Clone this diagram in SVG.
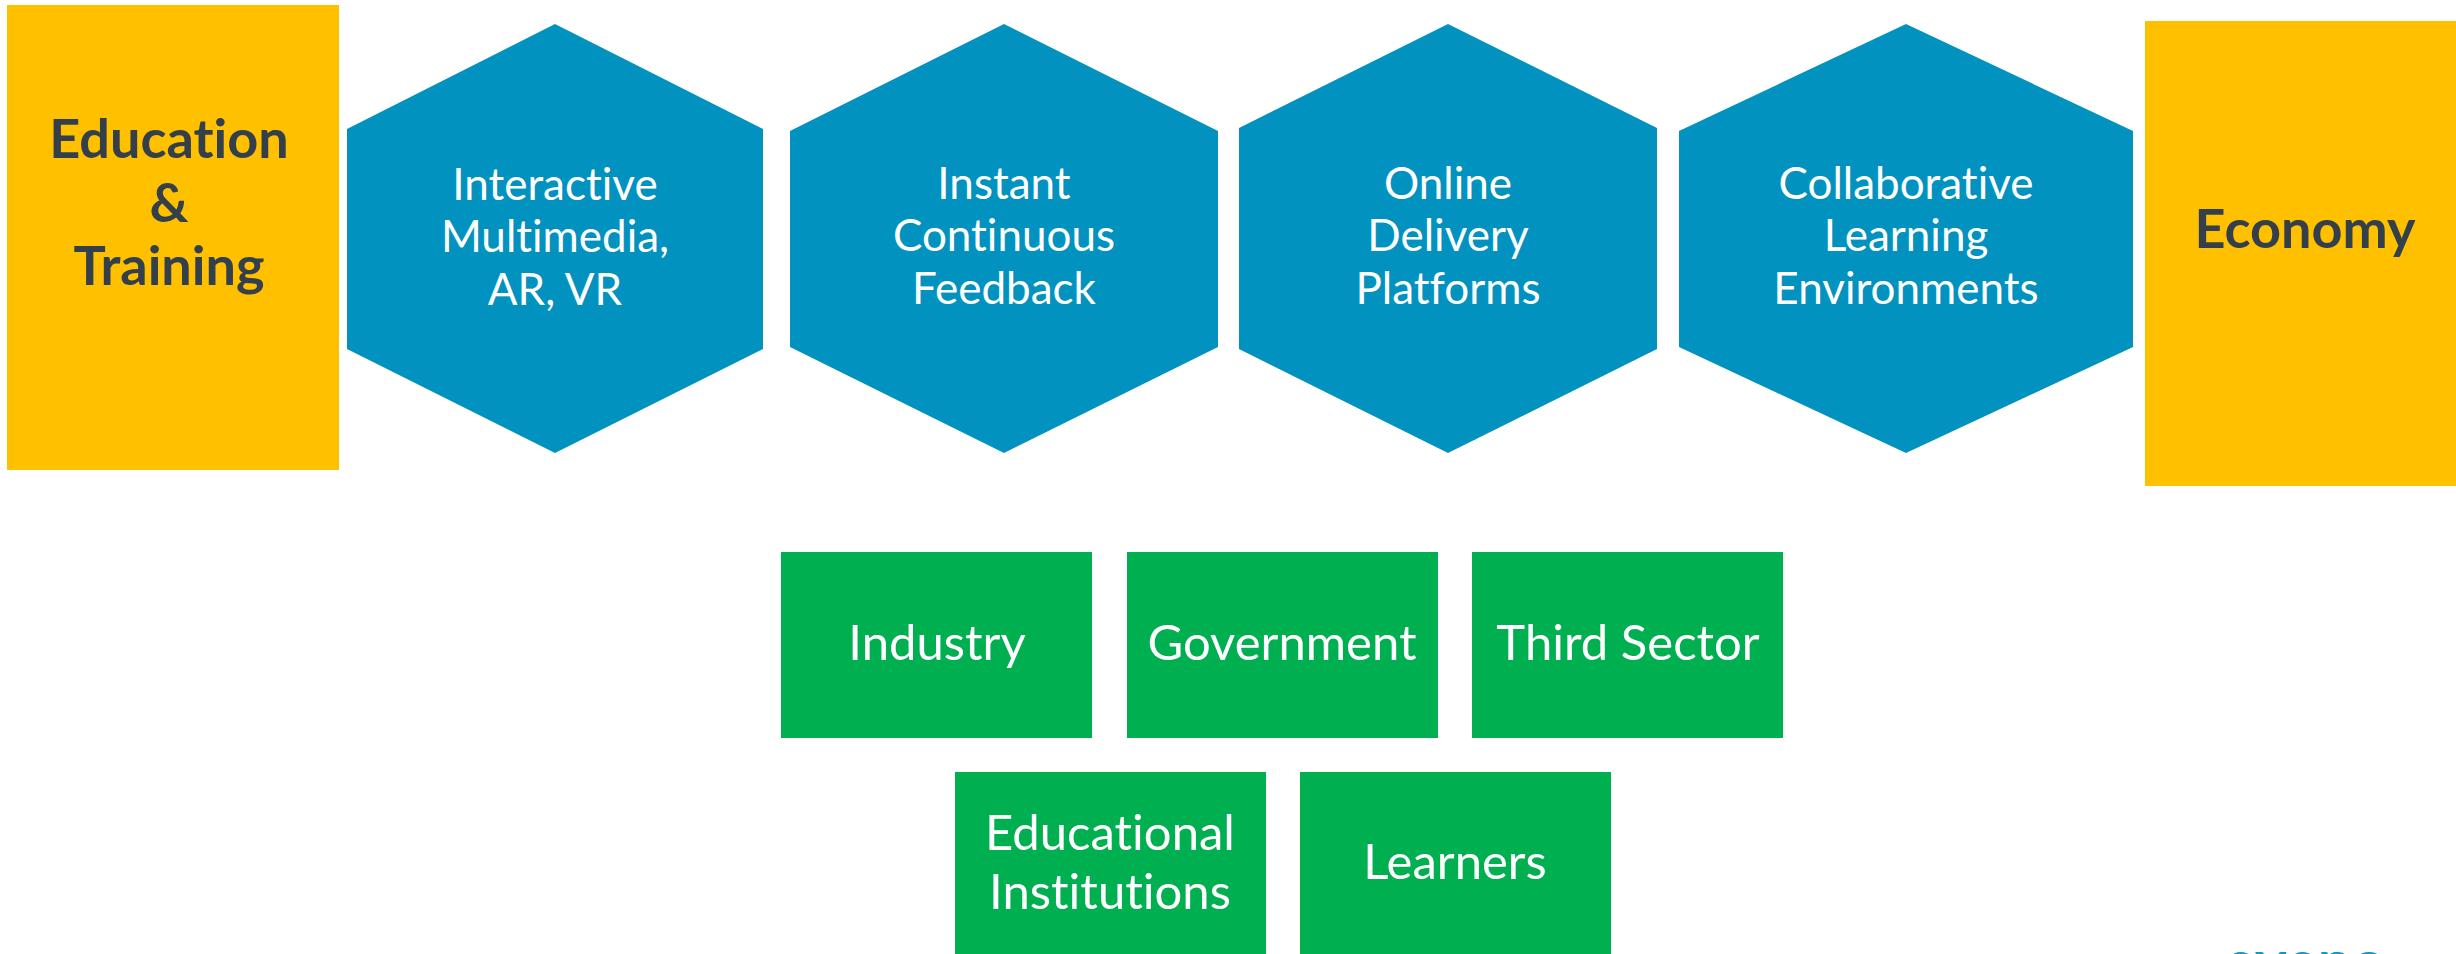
<svg xmlns="http://www.w3.org/2000/svg" width="2456" height="954" viewBox="0 0 2456 954">
<style>
.yel{fill:#FFC000}
.hex{fill:#0292BF}
.grn{fill:#00AF50}
text{font-variant-ligatures:none}
.dark{font-family:"Lato","Liberation Sans",sans-serif;font-weight:bold;font-size:54px;fill:#333F4A;text-anchor:middle}
.wh{font-family:"Lato","Liberation Sans",sans-serif;font-size:44px;fill:#FFFFFF;text-anchor:middle}
.wg{font-family:"Lato","Liberation Sans",sans-serif;font-size:49px;fill:#FFFFFF;text-anchor:middle}
.logo{font-family:"Lato","Liberation Sans",sans-serif;font-weight:bold;font-size:60px;fill:#1296C8;text-anchor:middle}
</style>
<rect width="2456" height="954" fill="#FFFFFF"/>
<g id="connectors"></g>
<g id="education-training">
<rect class="yel" x="7" y="5" width="332" height="465"/>
<text class="dark" x="169" y="158">Education</text>
<text class="dark" x="169" y="222">&amp;</text>
<text class="dark" x="169" y="285">Training</text>
</g>
<g id="hex-multimedia">
<polygon class="hex" points="347,129 555,24 763,129 763,349 555,453 347,349"/>
<text class="wh" x="555" y="200">Interactive</text>
<text class="wh" x="555" y="252">Multimedia,</text>
<text class="wh" x="555" y="305">AR, VR</text>
</g>
<g id="hex-feedback">
<polygon class="hex" points="790,131 1004,24 1218,131 1218,347 1004,453 790,347"/>
<text class="wh" x="1004" y="199">Instant</text>
<text class="wh" x="1004" y="251">Continuous</text>
<text class="wh" x="1004" y="304">Feedback</text>
</g>
<g id="hex-online">
<polygon class="hex" points="1239,128 1448,24 1657,128 1657,349 1448,453 1239,349"/>
<text class="wh" x="1448" y="199">Online</text>
<text class="wh" x="1448" y="251">Delivery</text>
<text class="wh" x="1448" y="304">Platforms</text>
</g>
<g id="hex-collaborative">
<polygon class="hex" points="1679,131 1906,24 2133,131 2133,347 1906,453 1679,347"/>
<text class="wh" x="1906" y="199">Collaborative</text>
<text class="wh" x="1906" y="251">Learning</text>
<text class="wh" x="1906" y="304">Environments</text>
</g>
<g id="economy">
<rect class="yel" x="2145" y="21" width="311" height="465"/>
<text class="dark" x="2305" y="248">Economy</text>
</g>
<g id="industry">
<rect class="grn" x="781" y="552" width="311" height="186"/>
<text class="wg" x="937" y="660">Industry</text>
</g>
<g id="government">
<rect class="grn" x="1127" y="552" width="311" height="186"/>
<text class="wg" x="1282" y="660">Government</text>
</g>
<g id="third-sector">
<rect class="grn" x="1472" y="552" width="311" height="186"/>
<text class="wg" x="1628" y="660">Third Sector</text>
</g>
<g id="educational-institutions">
<rect class="grn" x="955" y="772" width="311" height="186"/>
<text class="wg" x="1110" y="850">Educational</text>
<text class="wg" x="1110" y="909">Institutions</text>
</g>
<g id="learners">
<rect class="grn" x="1300" y="772" width="311" height="186"/>
<text class="wg" x="1455" y="879">Learners</text>
</g>
<g id="logo">
<text class="logo" x="2305" y="983">eyeno</text>
</g>
</svg>
